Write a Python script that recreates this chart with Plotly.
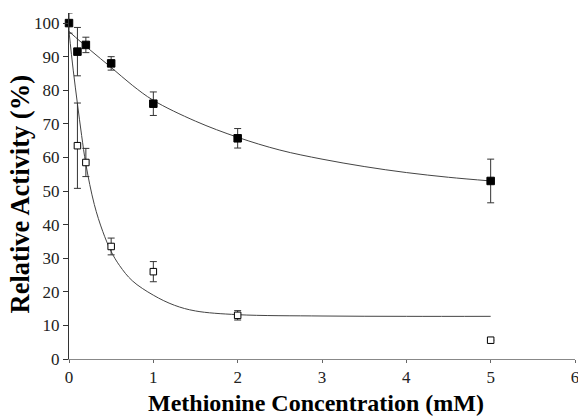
import plotly.graph_objects as go

# Measured data (filled = control series, open = second series)
conc = [0, 0.1, 0.2, 0.5, 1, 2, 5]
filled_vals = [100, 91.5, 93.5, 88, 76, 65.7, 53]
filled_err = [3, 7.2, 2.3, 2, 3.5, 2.9, 6.5]

open_conc = [0.1, 0.2, 0.5, 1, 2, 5]
open_vals = [63.5, 58.5, 33.5, 26, 13, 5.6]
open_err = [12.7, 4.2, 2.5, 3, 1.4, 0]

# Fitted curves
fit_filled_x = [0, 0.25, 0.5, 0.75, 1, 1.5, 2, 2.5, 3, 3.5, 4, 4.5, 5]
fit_filled_y = [97.5, 92, 86.8, 81.5, 77, 70.8, 66, 62.2, 59.5, 57.3, 55.5, 54.1, 53]

fit_open_x = [0, 0.05, 0.1, 0.15, 0.2, 0.3, 0.4, 0.5, 0.6, 0.75, 1, 1.25, 1.5, 2, 3, 4, 5]
fit_open_y = [97.5, 86, 76, 66.5, 58, 46, 38, 32, 27.8, 23.3, 19, 16, 14.3, 13.2, 12.8, 12.7, 12.7]

x_ticks = [0, 1, 2, 3, 4, 5, 6]
y_ticks = [0, 10, 20, 30, 40, 50, 60, 70, 80, 90, 100]

x_title = "Methionine Concentration (mM)"
y_title = "Relative Activity (%)"

SERIF = "Liberation Serif, Times New Roman, serif"

fig = go.Figure()

fig.add_trace(go.Scatter(x=fit_filled_x, y=fit_filled_y, mode="lines",
                         line=dict(color="#444444", width=1, shape="spline"),
                         hoverinfo="skip", showlegend=False))
fig.add_trace(go.Scatter(x=fit_open_x, y=fit_open_y, mode="lines",
                         line=dict(color="#444444", width=1, shape="spline"),
                         hoverinfo="skip", showlegend=False))

fig.add_trace(go.Scatter(x=conc, y=filled_vals, mode="markers",
                         marker=dict(symbol="square", size=7.5, color="black",
                                     line=dict(color="black", width=1)),
                         error_y=dict(type="data", array=filled_err, visible=True,
                                      color="#333333", thickness=1, width=3.5),
                         cliponaxis=False, showlegend=False))
fig.add_trace(go.Scatter(x=open_conc, y=open_vals, mode="markers",
                         marker=dict(symbol="square", size=6.5, color="white",
                                     line=dict(color="black", width=1)),
                         error_y=dict(type="data", array=open_err, visible=True,
                                      color="#333333", thickness=1, width=3.5),
                         cliponaxis=False, showlegend=False))

fig.update_layout(
    width=578, height=416,
    margin=dict(l=69, r=3, t=13, b=57, autoexpand=False),
    paper_bgcolor="white", plot_bgcolor="white",
    font=dict(family=SERIF, color="black", size=17),
    showlegend=False,
    annotations=[
        dict(text="<b>%s</b>" % x_title, xref="paper", yref="paper",
             x=0.488, y=-0.127, xanchor="center", yanchor="middle",
             showarrow=False, font=dict(family=SERIF, size=24, color="black")),
        dict(text="<b>%s</b>" % y_title, xref="paper", yref="paper",
             x=-0.097, y=0.4754, xanchor="center", yanchor="middle", textangle=-90,
             showarrow=False, font=dict(family=SERIF, size=26.5, color="black")),
    ],
)
fig.update_xaxes(range=[0, 6], tickvals=x_ticks, ticktext=[str(v) for v in x_ticks],
                 automargin=False,
                 showgrid=False, zeroline=False, showline=True,
                 linecolor="#888888", linewidth=1,
                 ticks="outside", ticklen=3, tickcolor="#666666",
                 ticklabeloverflow="allow",
                 tickfont=dict(family=SERIF, size=17, color="#222222"))
fig.update_yaxes(range=[0, 103], tickvals=y_ticks, ticktext=[str(v) for v in y_ticks],
                 automargin=False,
                 showgrid=False, zeroline=False, showline=True,
                 linecolor="#333333", linewidth=1,
                 ticks="outside", ticklen=5, tickcolor="#333333",
                 tickfont=dict(family=SERIF, size=17, color="#222222"))

fig.write_html("out.html", config={"displayModeBar": False},
               post_script="document.body.style.margin='0';document.body.style.padding='0';")
